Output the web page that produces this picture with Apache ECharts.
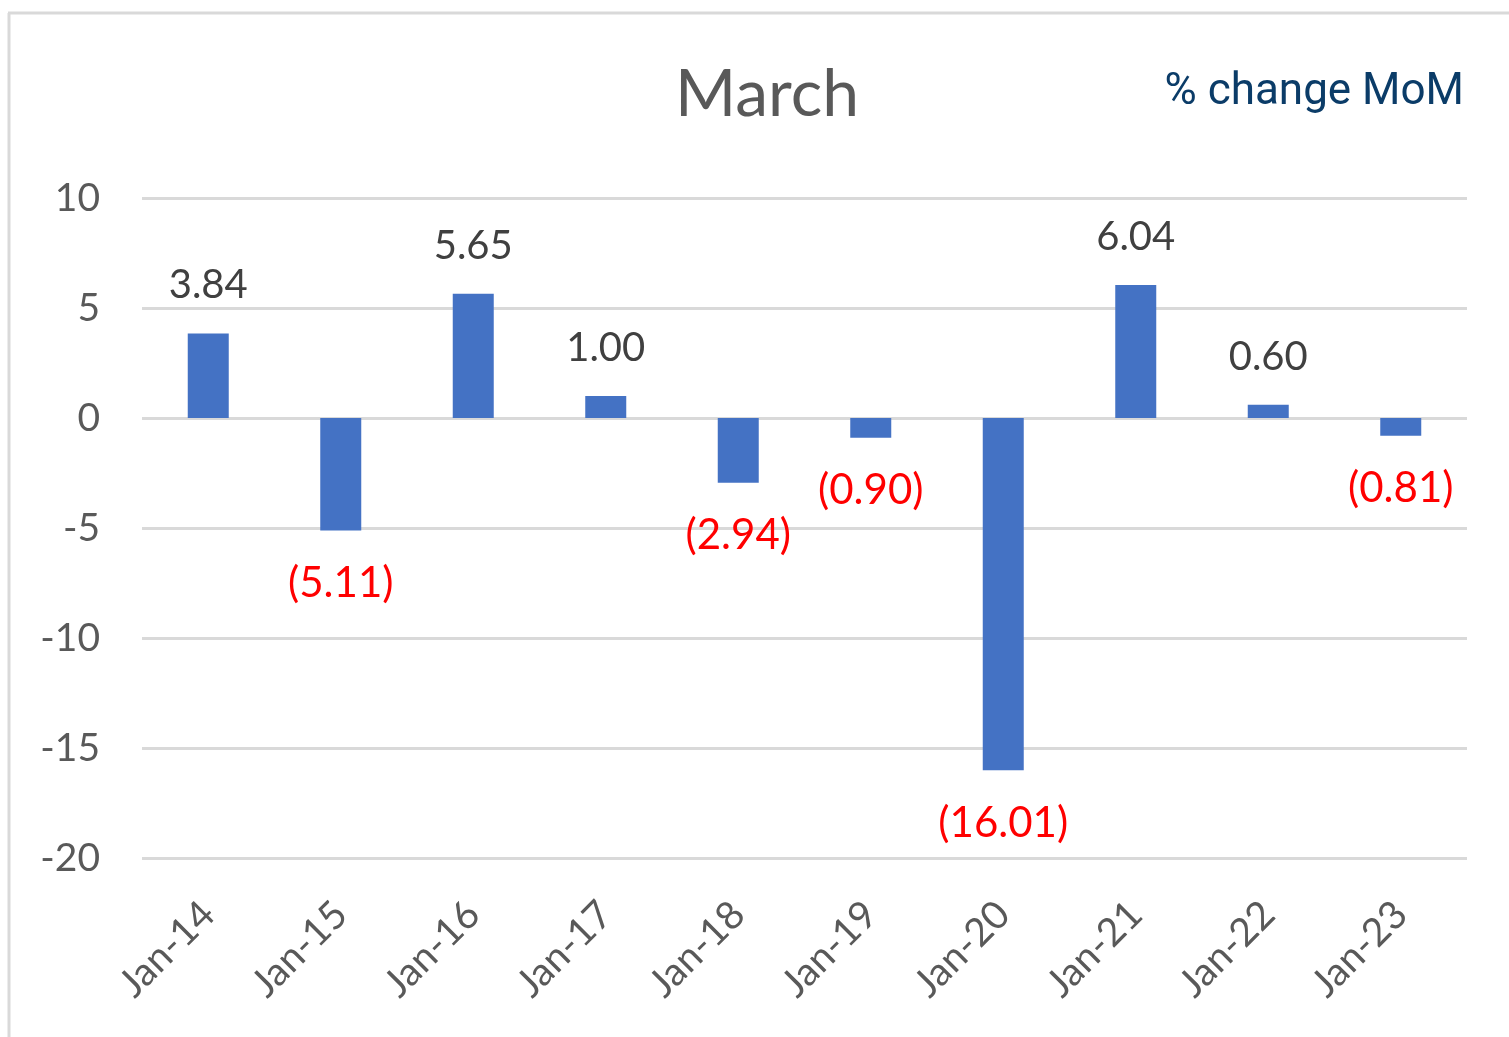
<!DOCTYPE html>
<html><head><meta charset="utf-8">
<script src="https://cdn.jsdelivr.net/npm/echarts@6/dist/echarts.min.js"></script>
<style>html,body{margin:0;padding:0;background:#fff;}#c{width:1509px;height:1037px;}</style>
</head><body><div id="c"></div>
<script>
const categories = ['Jan-14','Jan-15','Jan-16','Jan-17','Jan-18','Jan-19','Jan-20','Jan-21','Jan-22','Jan-23'];
const values = [3.84, -5.11, 5.65, 1.00, -2.94, -0.90, -16.01, 6.04, 0.60, -0.81];
const yTicks = {min: -20, max: 10, interval: 5};
const titleText = 'March';
const unitText = '% change MoM';

const chart = echarts.init(document.getElementById('c'));
const fmt = v => v < 0 ? '(' + Math.abs(v).toFixed(2) + ')' : v.toFixed(2);
chart.setOption({
  animation: false,
  backgroundColor: '#fff',
  title: [{
    text: titleText, left: 670, top: 57,
    textStyle: {fontFamily: 'Lato', fontSize: 66, fontWeight: 'normal', color: '#595959'}
  }, {
    text: unitText, right: 40, top: 66,
    textStyle: {fontFamily: 'Roboto', fontSize: 44, fontWeight: 'normal', color: '#0b3c68'}
  }],
  graphic: [
    {type: 'line', shape: {x1: 8, y1: 13, x2: 1509, y2: 13}, style: {stroke: '#d9d9d9', lineWidth: 3}, silent: true},
    {type: 'line', shape: {x1: 9, y1: 13, x2: 9, y2: 1037}, style: {stroke: '#d9d9d9', lineWidth: 3}, silent: true}
  ],
  grid: {left: 142, right: 42, top: 198, bottom: 179, containLabel: false},
  xAxis: {
    type: 'category', data: categories,
    axisLine: {show: false}, axisTick: {show: false},
    axisLabel: {rotate: 45, margin: 50, fontFamily: 'Lato', fontSize: 39, color: '#595959', interval: 0}
  },
  yAxis: {
    type: 'value', min: yTicks.min, max: yTicks.max, interval: yTicks.interval,
    axisLine: {show: false}, axisTick: {show: false},
    axisLabel: {margin: 42, fontFamily: 'Lato', fontSize: 39, color: '#595959'},
    splitLine: {lineStyle: {color: '#d9d9d9', width: 3}}
  },
  series: [{
    type: 'bar', barWidth: 41,
    data: values.map(v => ({
      value: v,
      label: {
        show: true,
        position: v < 0 ? 'bottom' : 'top',
        distance: v < 0 ? 32 : 28,
        formatter: () => fmt(v),
        color: v < 0 ? '#ff0000' : '#404040',
        fontFamily: 'Lato', fontSize: v < 0 ? 42 : 40
      }
    })),
    itemStyle: {color: '#4472c4'}
  }]
});
</script></body></html>
